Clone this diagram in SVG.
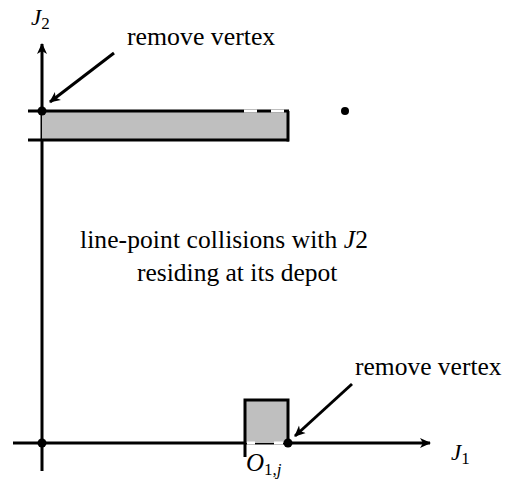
<svg xmlns="http://www.w3.org/2000/svg" width="507" height="479" viewBox="0 0 507 479">
<style>
.ln{stroke:#000;stroke-width:3;fill:none}
.gap{stroke:#fff;stroke-width:3;fill:none}
</style>
<defs>
<marker id="ah" viewBox="0 0 12 12" refX="10" refY="6" markerWidth="12" markerHeight="12" markerUnits="userSpaceOnUse" orient="auto">
<path d="M0,1 L11,6 L0,11 L3,6 Z" fill="#000"/>
</marker>
</defs>
<g id="axes">
<line class="ln" x1="42" y1="471" x2="42" y2="44" marker-end="url(#ah)"/>
<line class="ln" x1="13" y1="443" x2="430" y2="443" marker-end="url(#ah)"/>
</g>
<g id="top-rect">
<rect x="42" y="111" width="246" height="29" fill="#bfbfbf"/>
<line class="ln" x1="28" y1="111" x2="289" y2="111"/>
<line class="ln" x1="28" y1="140" x2="289" y2="140"/>
<line class="ln" x1="288" y1="111" x2="288" y2="141.5"/>
<line class="gap" x1="244" y1="111" x2="257" y2="111"/>
<line class="gap" x1="271" y1="111" x2="284" y2="111"/>
</g>
<g id="bottom-rect">
<rect x="245" y="400" width="43" height="43" fill="#bfbfbf"/>
<polyline class="ln" points="245,457 245,400 288,400 288,443"/>
<line class="gap" x1="247" y1="443" x2="255" y2="443"/>
<line class="gap" x1="274" y1="443" x2="283" y2="443"/>
</g>
<g id="points">
<circle cx="42" cy="111" r="4.5"/>
<circle cx="345" cy="111" r="4"/>
<circle cx="42" cy="443" r="4.5"/>
<circle cx="288" cy="443" r="4.5"/>
</g>
<g id="connectors">
<line class="ln" x1="114" y1="53" x2="50" y2="102" marker-end="url(#ah)"/>
<line class="ln" x1="352" y1="384" x2="295" y2="436" marker-end="url(#ah)"/>
</g>
<g id="labels" font-family="Liberation Serif" fill="#000">
<text x="31" y="25" font-size="23" font-style="italic">J<tspan font-style="normal" font-size="17" dy="4">2</tspan></text>
<text x="451" y="460" font-size="23" font-style="italic">J<tspan font-style="normal" font-size="17" dy="4">1</tspan></text>
<text x="246" y="471" font-size="25" font-style="italic">O<tspan font-style="normal" font-size="17" dy="4">1,</tspan><tspan font-size="17">j</tspan></text>
<text x="127" y="45" font-size="25.8">remove vertex</text>
<text x="355" y="375" font-size="25.5">remove vertex</text>
<text x="80" y="248" font-size="25.5" textLength="288">line-point collisions with <tspan font-style="italic">J</tspan>2</text>
<text x="137" y="281" font-size="25.5">residing at its depot</text>
</g>
</svg>
